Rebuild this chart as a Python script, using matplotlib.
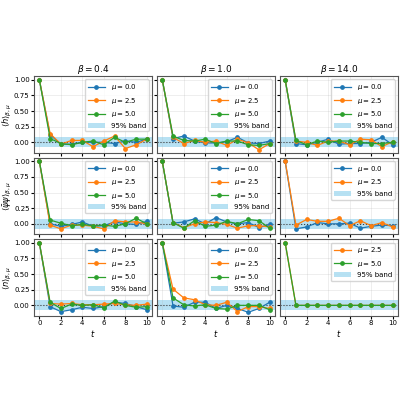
import matplotlib
matplotlib.use("Agg")
import matplotlib.pyplot as plt
import numpy as np

t = list(range(11))
betas = [0.4, 1.0, 14.0]
mus = [0.0, 2.5, 5.0]
row_labels = [r"$\langle h\rangle_{\beta,\mu}$", r"$\langle \bar{\psi}\psi\rangle_{\beta,\mu}$", r"$\langle n\rangle_{\beta,\mu}$"]
band = 0.08

h_b04_mu0 = [1, 0.12, -0.03, -0.03, 0.0, 0.0, 0.0, -0.02, 0.02, 0.0, 0.05]
h_b04_mu25 = [1, 0.14, -0.03, 0.03, 0.03, -0.07, 0.02, 0.1, -0.1, -0.04, 0.05]
h_b04_mu5 = [1, 0.06, -0.02, -0.04, 0.0, 0.02, -0.04, 0.08, 0.0, 0.05, 0.05]
h_b1_mu0 = [1, 0.06, 0.1, 0.02, -0.01, -0.01, 0.01, 0.08, -0.01, -0.02, 0.02]
h_b1_mu25 = [1, 0.08, -0.02, 0.03, 0.0, 0.02, -0.05, 0.05, -0.01, -0.12, -0.02]
h_b1_mu5 = [1, 0.1, 0.03, 0.02, 0.05, -0.02, 0.02, 0.02, -0.04, -0.05, -0.02]
h_b14_mu0 = [1, -0.02, -0.04, 0.0, 0.05, -0.03, -0.02, -0.02, 0.0, 0.08, -0.04]
h_b14_mu25 = [1, 0.02, 0.0, -0.05, 0.02, 0.02, -0.04, 0.05, 0.04, -0.07, 0.01]
h_b14_mu5 = [1, 0.03, -0.04, 0.02, 0.0, 0.02, 0.02, 0.0, -0.02, -0.02, 0.0]

p_b04_mu0 = [1, 0.0, -0.04, -0.01, 0.03, -0.04, -0.03, 0.03, 0.0, -0.01, 0.04]
p_b04_mu25 = [1, -0.02, -0.08, -0.02, -0.02, -0.04, -0.08, 0.05, 0.03, 0.03, 0.0]
p_b04_mu5 = [1, 0.06, 0.01, -0.03, -0.01, -0.03, -0.02, -0.04, 0.0, 0.09, 0.0]
p_b1_mu0 = [1, 0.01, 0.03, 0.08, 0.0, 0.1, 0.03, 0.0, 0.02, -0.06, -0.01]
p_b1_mu25 = [1, 0.02, -0.06, 0.0, 0.03, 0.02, -0.01, -0.07, -0.03, -0.03, -0.05]
p_b1_mu5 = [1, 0.02, -0.07, 0.05, -0.04, -0.02, 0.04, 0.0, 0.07, 0.05, -0.07]
p_b14_mu0 = [1, -0.08, -0.05, 0.02, 0.0, 0.0, 0.01, -0.07, -0.04, -0.02, -0.03]
p_b14_mu25 = [1, -0.02, 0.07, 0.04, 0.04, 0.09, -0.03, 0.05, -0.03, 0.02, -0.05]

n_b04_mu0 = [1, -0.02, -0.1, -0.07, -0.03, -0.05, -0.02, 0.05, 0.03, -0.02, -0.07]
n_b04_mu25 = [1, 0.03, 0.02, 0.03, 0.01, 0.01, 0.02, 0.03, 0.01, 0.0, 0.02]
n_b04_mu5 = [1, 0.05, -0.05, 0.02, 0.0, 0.01, -0.04, 0.07, 0.0, -0.03, -0.02]
n_b1_mu0 = [1, -0.01, -0.03, 0.05, 0.05, -0.05, 0.0, -0.05, -0.11, -0.05, 0.05]
n_b1_mu25 = [1, 0.26, 0.12, 0.09, 0.01, 0.0, 0.05, -0.1, -0.02, -0.02, -0.05]
n_b1_mu5 = [1, 0.12, 0.01, -0.01, 0.01, -0.05, -0.06, 0.0, 0.0, 0.0, -0.07]
n_b14_mu25 = [1, 0, 0, 0, 0, 0, 0, 0, 0, 0, 0]
n_b14_mu5 = [1, 0, 0, 0, 0, 0, 0, 0, 0, 0, 0]

data = [
    [{0.0: h_b04_mu0, 2.5: h_b04_mu25, 5.0: h_b04_mu5},
     {0.0: h_b1_mu0, 2.5: h_b1_mu25, 5.0: h_b1_mu5},
     {0.0: h_b14_mu0, 2.5: h_b14_mu25, 5.0: h_b14_mu5}],
    [{0.0: p_b04_mu0, 2.5: p_b04_mu25, 5.0: p_b04_mu5},
     {0.0: p_b1_mu0, 2.5: p_b1_mu25, 5.0: p_b1_mu5},
     {0.0: p_b14_mu0, 2.5: p_b14_mu25}],
    [{0.0: n_b04_mu0, 2.5: n_b04_mu25, 5.0: n_b04_mu5},
     {0.0: n_b1_mu0, 2.5: n_b1_mu25, 5.0: n_b1_mu5},
     {2.5: n_b14_mu25, 5.0: n_b14_mu5}],
]
colors = {0.0: "#1f77b4", 2.5: "#ff7f0e", 5.0: "#2ca02c"}

fig, axes = plt.subplots(3, 3, figsize=(4, 4), dpi=100, sharex=True, sharey=True)
fig.subplots_adjust(left=0.085, right=0.995, top=0.81, bottom=0.21, wspace=0.04, hspace=0.06)
for i in range(3):
    for j in range(3):
        ax = axes[i, j]
        ax.axhspan(-band, band, color="skyblue", alpha=0.6, lw=0, label="95% band")
        ax.axhline(0, color="k", ls=":", lw=0.8, alpha=0.7)
        for mu, vals in data[i][j].items():
            ax.plot(t, vals, marker="o", ms=2.4, lw=0.9, color=colors[mu], label=rf"$\mu = {mu}$")
        ax.grid(True, alpha=0.3, lw=0.5)
        h, l = ax.get_legend_handles_labels()
        h = h[1:] + h[:1]; l = l[1:] + l[:1]
        ax.legend(h, l, loc="upper right", fontsize=5, handlelength=2.5, borderpad=0.4, labelspacing=0.5)
        ax.tick_params(labelsize=5, length=2, pad=1.2)
        for s in ax.spines.values():
            s.set_color("#555555")
        if i == 0:
            ax.set_title(rf"$\beta = {betas[j]}$", fontsize=6.5, pad=3)
        if j == 0:
            ax.set_ylabel(row_labels[i], fontsize=6)
            ax.yaxis.set_label_coords(-0.17, 0.5)
        if i == 2:
            ax.set_xlabel(r"$t$", fontsize=6, labelpad=1)
axes[0, 0].set_xticks([0, 2, 4, 6, 8, 10])
axes[0, 0].set_yticks([0.0, 0.25, 0.5, 0.75, 1.0])
axes[0, 0].set_ylim(-0.17, 1.06)
axes[0, 0].set_xlim(-0.5, 10.5)
fig.savefig("out.png", dpi=100)
